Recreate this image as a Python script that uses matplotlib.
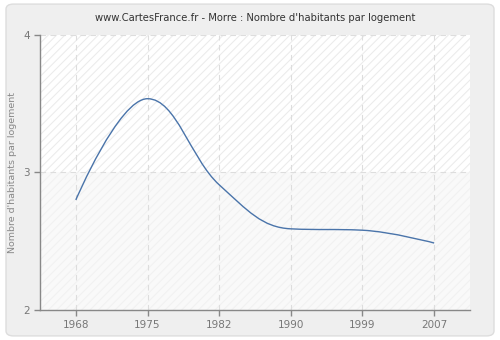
import numpy as np
import matplotlib.pyplot as plt
from matplotlib.path import Path
from matplotlib.patches import PathPatch, FancyBboxPatch

# Data (census years, drawn on an evenly spaced axis)
years = ['1968', '1975', '1982', '1990', '1999', '2007']
values = [2.80, 3.535, 2.91, 2.59, 2.58, 2.487]
yticks = [2, 3, 4]


def spline_path(xs, ys, smoothing=1.5):
    # smooth bezier through every point, control points as in a classic web chart spline
    denom = smoothing + 1
    n = len(xs)
    left = [None] * n
    right = [None] * n
    for i in range(n):
        x, y = xs[i], ys[i]
        if i == 0 or i == n - 1:
            left[i] = (x, y)
            right[i] = (x, y)
            continue
        lx, ly = xs[i - 1], ys[i - 1]
        nx, ny = xs[i + 1], ys[i + 1]
        lcx = (smoothing * x + lx) / denom
        lcy = (smoothing * y + ly) / denom
        rcx = (smoothing * x + nx) / denom
        rcy = (smoothing * y + ny) / denom
        corr = ((rcy - lcy) * (rcx - x)) / (rcx - lcx) + y - rcy
        lcy += corr
        rcy += corr
        if lcy > ly and lcy > y:
            lcy = max(ly, y)
            rcy = 2 * y - lcy
        elif lcy < ly and lcy < y:
            lcy = min(ly, y)
            rcy = 2 * y - lcy
        if rcy > ny and rcy > y:
            rcy = max(ny, y)
            lcy = 2 * y - rcy
        elif rcy < ny and rcy < y:
            rcy = min(ny, y)
            lcy = 2 * y - rcy
        left[i] = (lcx, lcy)
        right[i] = (rcx, rcy)
    verts = [(xs[0], ys[0])]
    codes = [Path.MOVETO]
    for i in range(1, n):
        verts += [right[i - 1], left[i], (xs[i], ys[i])]
        codes += [Path.CURVE4] * 3
    return Path(verts, codes)


fig = plt.figure(figsize=(5, 3.4), dpi=100)
fig.patch.set_facecolor('#ffffff')
bg = FancyBboxPatch((0.012, 0.012), 0.976, 0.976, boxstyle='round,pad=0,rounding_size=0.015',
                    transform=fig.transFigure, facecolor='#efefef', edgecolor='#dddddd',
                    linewidth=1, zorder=-10)
fig.add_artist(bg)

ax = fig.add_axes([0.08, 0.088, 0.86, 0.81])
ax.set_facecolor('#ffffff')

pos = np.arange(len(years))
ax.set_xlim(-0.5, len(years) - 0.5)
ax.set_ylim(2, 4)

# hatched bands behind the curve
plt.rcParams['hatch.linewidth'] = 0.8
ax.axhspan(3, 4, facecolor='#ffffff', edgecolor='#ececec', hatch='////',
           linewidth=0, zorder=0)
ax.axhspan(2, 3, facecolor='#f9f9f9', edgecolor='#f1f1f1', hatch='////',
           linewidth=0, zorder=0)

ax.add_patch(PathPatch(spline_path(pos, values), facecolor='none',
                       edgecolor='#4a74aa', linewidth=1, zorder=3))

ax.set_xticks(pos)
ax.set_xticklabels(years)
ax.set_yticks(yticks)
ax.grid(True, color='#dddddd', linestyle=(0, (5, 4)), linewidth=0.8)
for gl in ax.get_xgridlines() + ax.get_ygridlines():
    gl.set_zorder(1)

for s in ['top', 'right']:
    ax.spines[s].set_visible(False)
for s in ['left', 'bottom']:
    ax.spines[s].set_color('#888888')
    ax.spines[s].set_linewidth(1)
    ax.spines[s].set_zorder(4)

ax.tick_params(axis='both', colors='#888888', labelcolor='#777777', labelsize=7.5,
               length=4, width=1)
ax.set_ylabel("Nombre d'habitants par logement", fontsize=6.8, color='#888888')
ax.set_title("www.CartesFrance.fr - Morre : Nombre d'habitants par logement",
             fontsize=7.2, color='#333333', pad=10)

plt.savefig('out.png', dpi=100, facecolor=fig.get_facecolor())
